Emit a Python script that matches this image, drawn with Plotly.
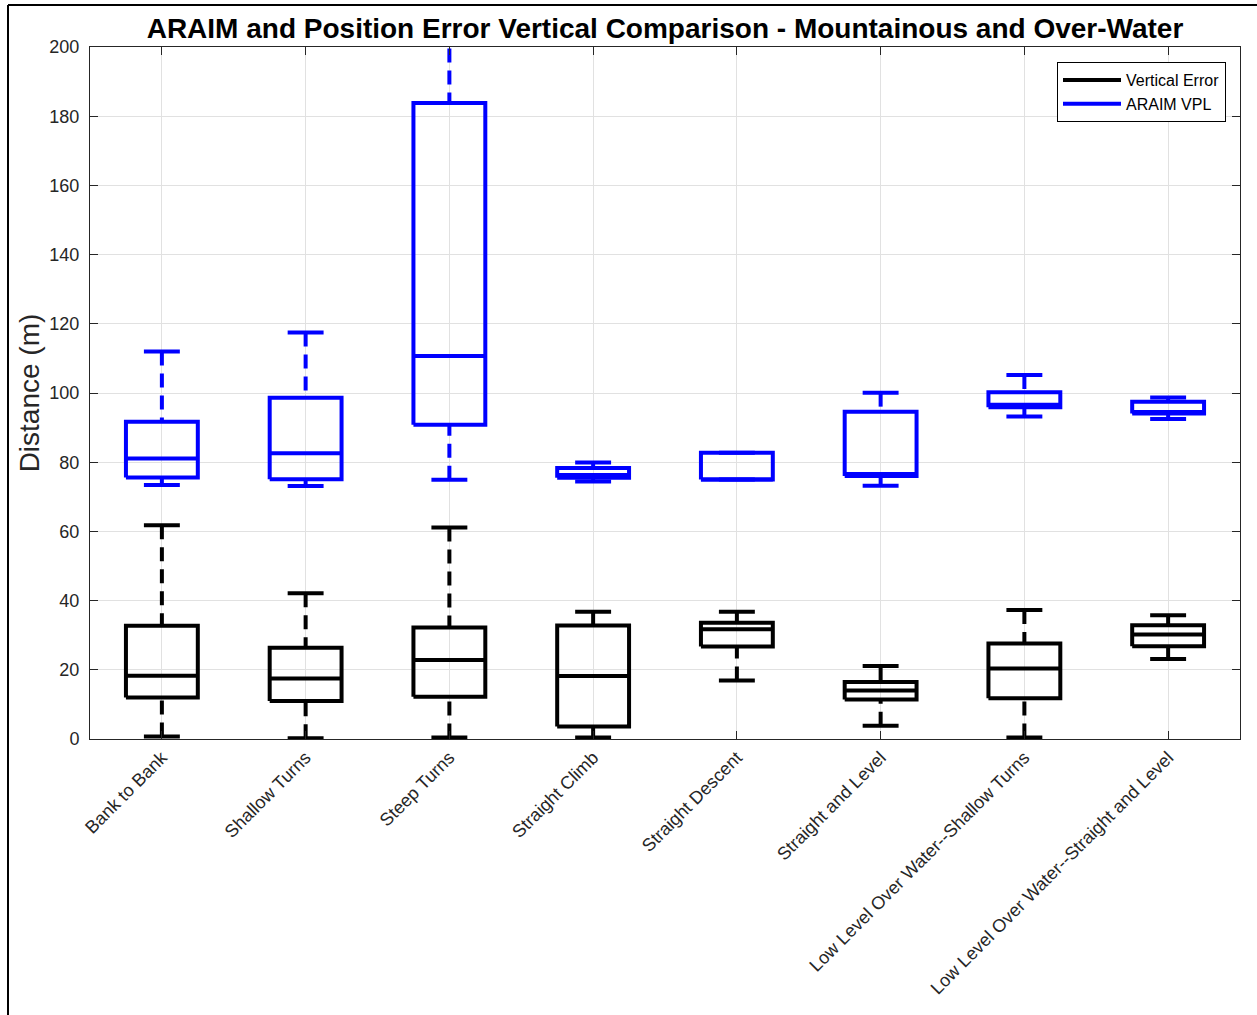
import plotly.graph_objects as go

# Flight phases (x categories)
categories = [
    "Bank to Bank",
    "Shallow Turns",
    "Steep Turns",
    "Straight Climb",
    "Straight Descent",
    "Straight and Level",
    "Low Level Over Water--Shallow Turns",
    "Low Level Over Water--Straight and Level",
]

# Vertical position error (m): whisker ends, quartiles, median
err_lower = [0.7, 0.2, 0.4, 0.4, 16.9, 3.8, 0.4, 23.1]
err_q1 = [12.0, 11.0, 12.2, 3.6, 26.7, 11.4, 11.8, 26.8]
err_median = [18.3, 17.5, 22.8, 18.2, 31.7, 14.0, 20.4, 30.2]
err_q3 = [32.7, 26.4, 32.2, 32.8, 33.6, 16.5, 27.6, 32.9]
err_upper = [61.8, 42.1, 61.1, 36.8, 36.8, 21.1, 37.3, 35.8]

# ARAIM vertical protection level (m)
vpl_lower = [73.4, 73.1, 74.9, 74.4, 75.0, 73.2, 93.2, 92.5]
vpl_q1 = [75.6, 75.1, 90.8, 75.5, 75.0, 76.0, 95.9, 94.1]
vpl_median = [81.1, 82.6, 110.7, 76.3, 75.0, 76.6, 96.6, 94.5]
vpl_q3 = [91.7, 98.6, 183.8, 78.3, 82.7, 94.6, 100.2, 97.5]
vpl_upper = [112.0, 117.5, 225.0, 79.9, 82.7, 100.1, 105.2, 98.7]

y_ticks = [0, 20, 40, 60, 80, 100, 120, 140, 160, 180, 200]

BOX_HALF = 0.25
CAP_HALF = 0.125
LW = 4


def box_paths(lower, q1, med, q3, upper):
    """Build segment lists (None-separated) for boxes, medians, caps and whiskers."""
    bx, by, wx, wy = [], [], [], []
    for i in range(len(q1)):
        x = i + 1
        l, r = x - BOX_HALF, x + BOX_HALF
        # box outline
        bx += [l, r, r, l, l, None]
        by += [q1[i], q1[i], q3[i], q3[i], q1[i], None]
        # median
        bx += [l, r, None]
        by += [med[i], med[i], None]
        # whisker caps
        bx += [x - CAP_HALF, x + CAP_HALF, None, x - CAP_HALF, x + CAP_HALF, None]
        by += [upper[i], upper[i], None, lower[i], lower[i], None]
        # dashed whiskers
        wx += [x, x, None, x, x, None]
        wy += [upper[i], q3[i], None, lower[i], q1[i], None]
    return bx, by, wx, wy


fig = go.Figure()

for name, color, data, rank in [
    ("Vertical Error", "#000000", (err_lower, err_q1, err_median, err_q3, err_upper), 1),
    ("ARAIM VPL", "#0000ff", (vpl_lower, vpl_q1, vpl_median, vpl_q3, vpl_upper), 2),
]:
    bx, by, wx, wy = box_paths(*data)
    fig.add_trace(go.Scatter(
        x=wx, y=wy, mode="lines", showlegend=False, hoverinfo="skip",
        line=dict(color=color, width=LW, dash="14px,8px"),
    ))
    fig.add_trace(go.Scatter(
        x=bx, y=by, mode="lines", name=name, legendrank=rank,
        line=dict(color=color, width=LW),
    ))

axis_color = "#262626"
grid_color = "#e1e1e1"

fig.update_layout(
    width=1257,
    height=1015,
    margin=dict(l=90, r=17, t=47, b=276),
    paper_bgcolor="white",
    plot_bgcolor="white",
    font=dict(family="Liberation Sans, Arial, sans-serif", color=axis_color),
    title=dict(
        text="<b>ARAIM and Position Error Vertical Comparison - Mountainous and Over-Water</b>",
        font=dict(size=28, color="#000000"),
        x=0.5, xref="paper", xanchor="center",
        y=1 - 28 / 1015, yref="container", yanchor="middle",
    ),
    xaxis=dict(
        range=[0.5, 8.5],
        tickmode="array",
        tickvals=list(range(1, len(categories) + 1)),
        ticktext=categories,
        tickangle=-45,
        tickfont=dict(size=18, color=axis_color),
        ticks="inside", ticklen=8, tickcolor=axis_color,
        showline=True, linecolor=axis_color, linewidth=1, mirror="ticks",
        showgrid=True, gridcolor=grid_color, gridwidth=1,
        zeroline=False,
    ),
    yaxis=dict(
        range=[0, 200],
        tickmode="array",
        tickvals=y_ticks,
        tickfont=dict(size=18, color=axis_color),
        ticks="inside", ticklen=8, tickcolor=axis_color,
        ticklabelstandoff=6,
        showline=True, linecolor=axis_color, linewidth=1, mirror="ticks",
        showgrid=True, gridcolor=grid_color, gridwidth=1,
        zeroline=False,
        title=dict(text="Distance (m)", font=dict(size=28, color=axis_color), standoff=1),
    ),
    legend=dict(
        x=(1226 - 90) / 1150, xanchor="right",
        y=(739 - 62) / 692, yanchor="top",
        bgcolor="white", bordercolor="#000000", borderwidth=1,
        font=dict(size=16, color="#000000"),
        itemwidth=58, tracegroupgap=0,
    ),
    shapes=[
        # figure frame (left and top edges)
        dict(type="line", xref="paper", yref="paper",
             x0=(8 - 90) / 1150, x1=(8 - 90) / 1150,
             y0=(739 - 1030) / 692, y1=(739 - 5) / 692,
             line=dict(color="#000000", width=2)),
        dict(type="line", xref="paper", yref="paper",
             x0=(8 - 90) / 1150, x1=(1270 - 90) / 1150,
             y0=(739 - 5) / 692, y1=(739 - 5) / 692,
             line=dict(color="#000000", width=2)),
    ],
)

fig.write_html("out.html")
